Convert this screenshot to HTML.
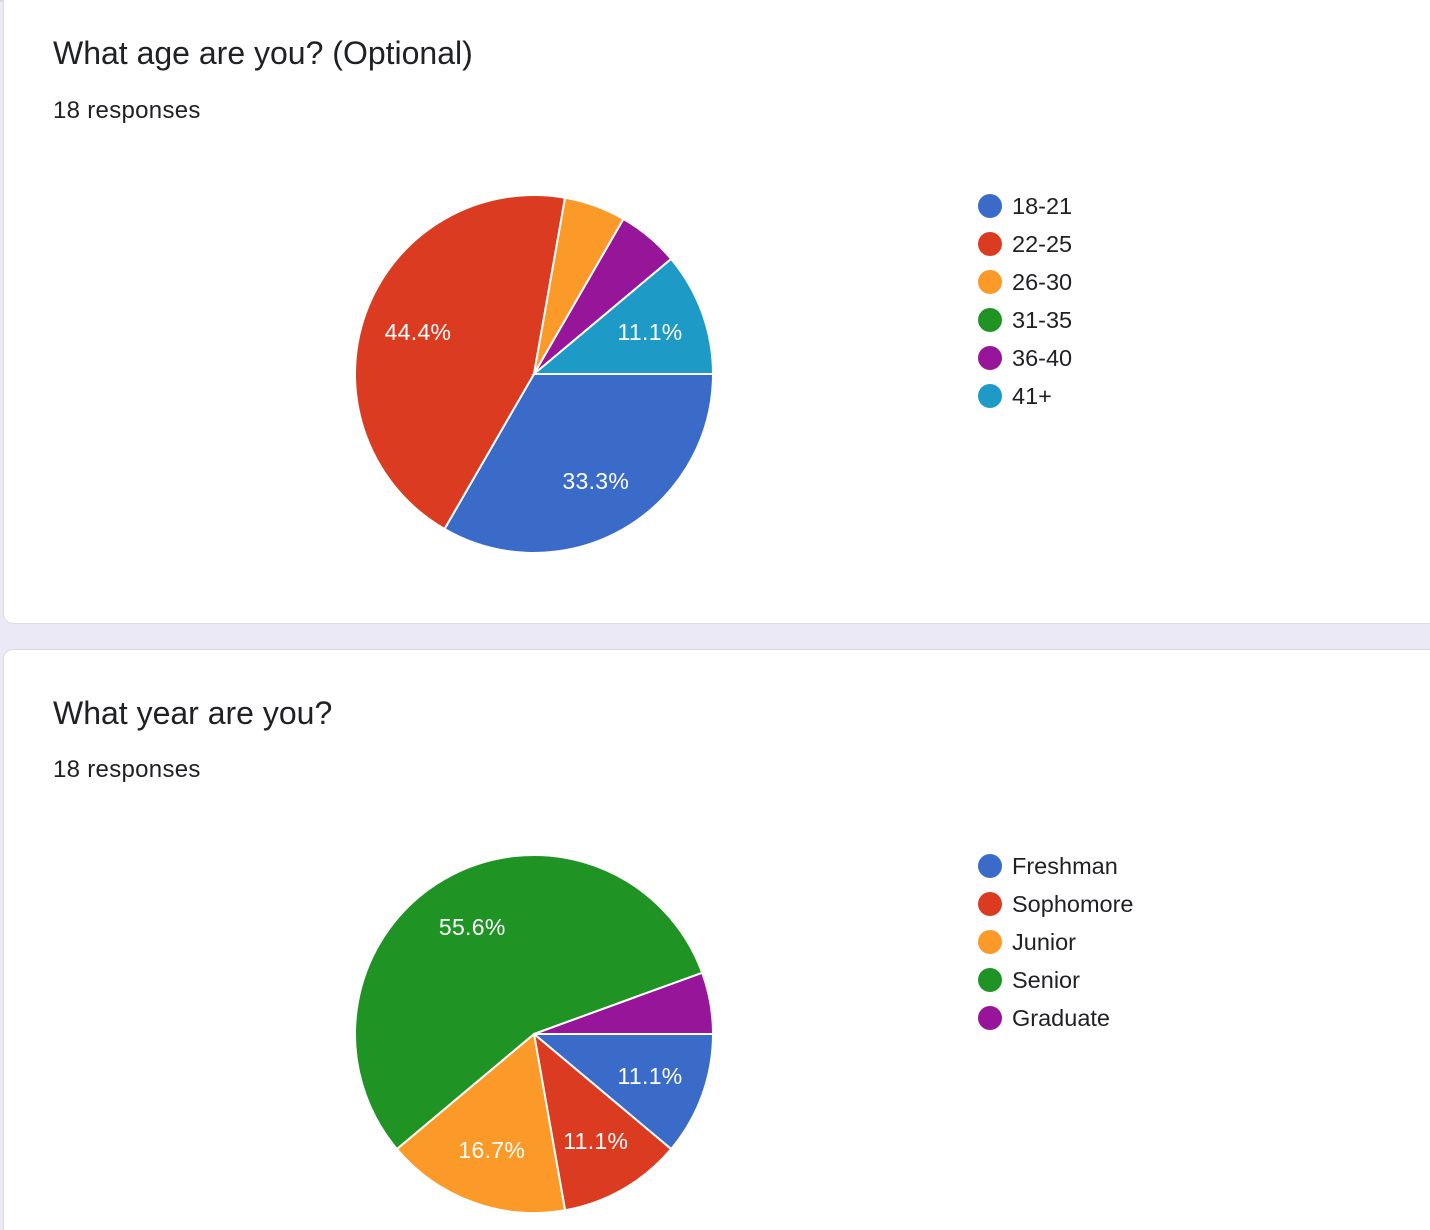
<!DOCTYPE html>
<html><head><meta charset="utf-8"><style>
html,body{margin:0;width:1430px;height:1230px;overflow:hidden}
body{background:#ece9f6;font-family:"Liberation Sans",Arial,sans-serif;position:relative}
.card{position:absolute;left:3px;width:1460px;background:#fff;border:1px solid #dadce0;border-radius:10px}
.title{position:absolute;left:49px;font-size:32px;color:#202124}
.resp{position:absolute;left:49px;font-size:24px;color:#202124;letter-spacing:0.3px}
.topline{position:absolute;left:0;top:0;width:1430px;height:2px;background:#dadce0}
svg{position:absolute;left:0;top:0}
</style></head><body>
<div class="topline"></div>
<div class="card" style="top:-10px;height:632px">
<div class="title" style="top:44px">What age are you? (Optional)</div>
<div class="resp" style="top:106px">18 responses</div>
</div>
<div class="card" style="top:649px;height:620px">
<div class="title" style="top:45px">What year are you?</div>
<div class="resp" style="top:106px">18 responses</div>
</div>
<svg id="chart" width="1430" height="1230"></svg>
<script>
const ageLabels=["18-21","22-25","26-30","31-35","36-40","41+"];
const ageValues=[6,8,1,0,1,2];
const yearLabels=["Freshman","Sophomore","Junior","Senior","Graduate"];
const yearValues=[2,2,3,10,1];
const colors=["#3a6bc9","#db3c21","#fb9a28","#1f9424","#961599","#1d9ac5"];
const NS="http://www.w3.org/2000/svg";
const svg=document.getElementById('chart');
function mk(tag,attrs){const e=document.createElementNS(NS,tag);for(const k in attrs)e.setAttribute(k,attrs[k]);svg.appendChild(e);return e;}
function pie(labels,values,cx,cy,r,legX,legY,prefix){
  const total=values.reduce((a,b)=>a+b,0);
  let a0=0;
  values.forEach((v,i)=>{
    if(v<=0)return;
    const a1=a0+v/total*2*Math.PI;
    const x0=cx+r*Math.cos(a0),y0=cy+r*Math.sin(a0),x1=cx+r*Math.cos(a1),y1=cy+r*Math.sin(a1);
    const large=(a1-a0)>Math.PI?1:0;
    const p=mk('path',{d:`M${cx},${cy}L${x0},${y0}A${r},${r} 0 ${large} 1 ${x1},${y1}Z`,fill:colors[i],stroke:'#fff','stroke-width':2});
    
    
    const pct=v/total*100;
    if(pct>=10){
      const am=(a0+a1)/2;
      const t=mk('text',{x:cx+r*0.69*Math.cos(am),y:cy+r*0.69*Math.sin(am)+8,'text-anchor':'middle',fill:'#fff','font-size':23,'font-family':'Liberation Sans, Arial, sans-serif','letter-spacing':'0.3'});
      t.textContent=pct.toFixed(1)+'%';
      
      
    }
    a0=a1;
  });
  labels.forEach((l,i)=>{
    const c=mk('circle',{cx:legX,cy:legY+i*38,r:12,fill:colors[i]});
    
    
    const t=mk('text',{x:legX+22,y:legY+i*38+8,fill:'#202124','font-size':23.5,'font-family':'Liberation Sans, Arial, sans-serif'});
    t.textContent=l;
    
    
  });
}
pie(ageLabels,ageValues,534,374,179,990,206,'age');
pie(yearLabels,yearValues,534,1034,179,990,866,'year');
</script>
</body></html>
